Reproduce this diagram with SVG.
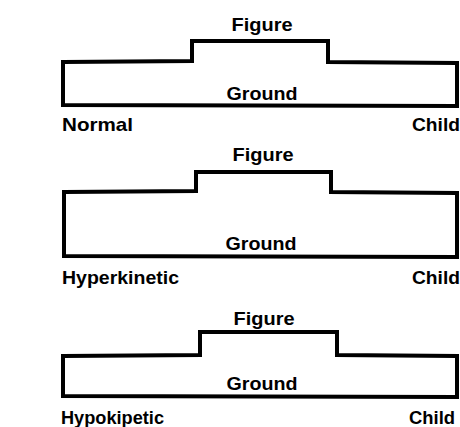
<svg xmlns="http://www.w3.org/2000/svg" width="460" height="427" viewBox="0 0 460 427">
<style>
.shape{fill:none;stroke:#000;stroke-width:4;stroke-linejoin:miter}
text{font-family:"Liberation Sans",Arial,sans-serif;font-weight:bold;font-size:19px;fill:#000}
.c{text-anchor:middle}
.r{text-anchor:end}
</style>
<rect width="460" height="427" fill="#fff"/>
<g id="normal">
<path class="shape" d="M63,62 L192,61 L192,41 L328,41 L328,62 L457,63 L457,106 L63,105 Z"/>
<text class="c" x="262" y="31" textLength="61" lengthAdjust="spacingAndGlyphs">Figure</text>
<text class="c" x="262" y="100" textLength="71" lengthAdjust="spacingAndGlyphs">Ground</text>
<text x="62" y="131" textLength="71" lengthAdjust="spacingAndGlyphs">Normal</text>
<text class="r" x="460" y="131" textLength="48" lengthAdjust="spacingAndGlyphs">Child</text>
</g>
<g id="hyperkinetic">
<path class="shape" d="M64,192 L196,191 L196,172 L331,172 L331,192 L457,193 L457,257 L64,256 Z"/>
<text class="c" x="263" y="161" textLength="61" lengthAdjust="spacingAndGlyphs">Figure</text>
<text class="c" x="261" y="250" textLength="71" lengthAdjust="spacingAndGlyphs">Ground</text>
<text x="62" y="284" textLength="117" lengthAdjust="spacingAndGlyphs">Hyperkinetic</text>
<text class="r" x="460" y="284" textLength="48" lengthAdjust="spacingAndGlyphs">Child</text>
</g>
<g id="hypokinetic">
<path class="shape" d="M63,356 L200,355 L200,332 L337,332 L337,355 L457,356 L457,397 L63,396 Z"/>
<text class="c" x="264" y="325" textLength="61" lengthAdjust="spacingAndGlyphs">Figure</text>
<text class="c" x="262" y="390" textLength="71" lengthAdjust="spacingAndGlyphs">Ground</text>
<text x="61" y="424" textLength="103" lengthAdjust="spacingAndGlyphs">Hypokipetic</text>
<text class="r" x="455" y="424" textLength="46" lengthAdjust="spacingAndGlyphs">Child</text>
</g>
<g id="connectors"/>
</svg>
